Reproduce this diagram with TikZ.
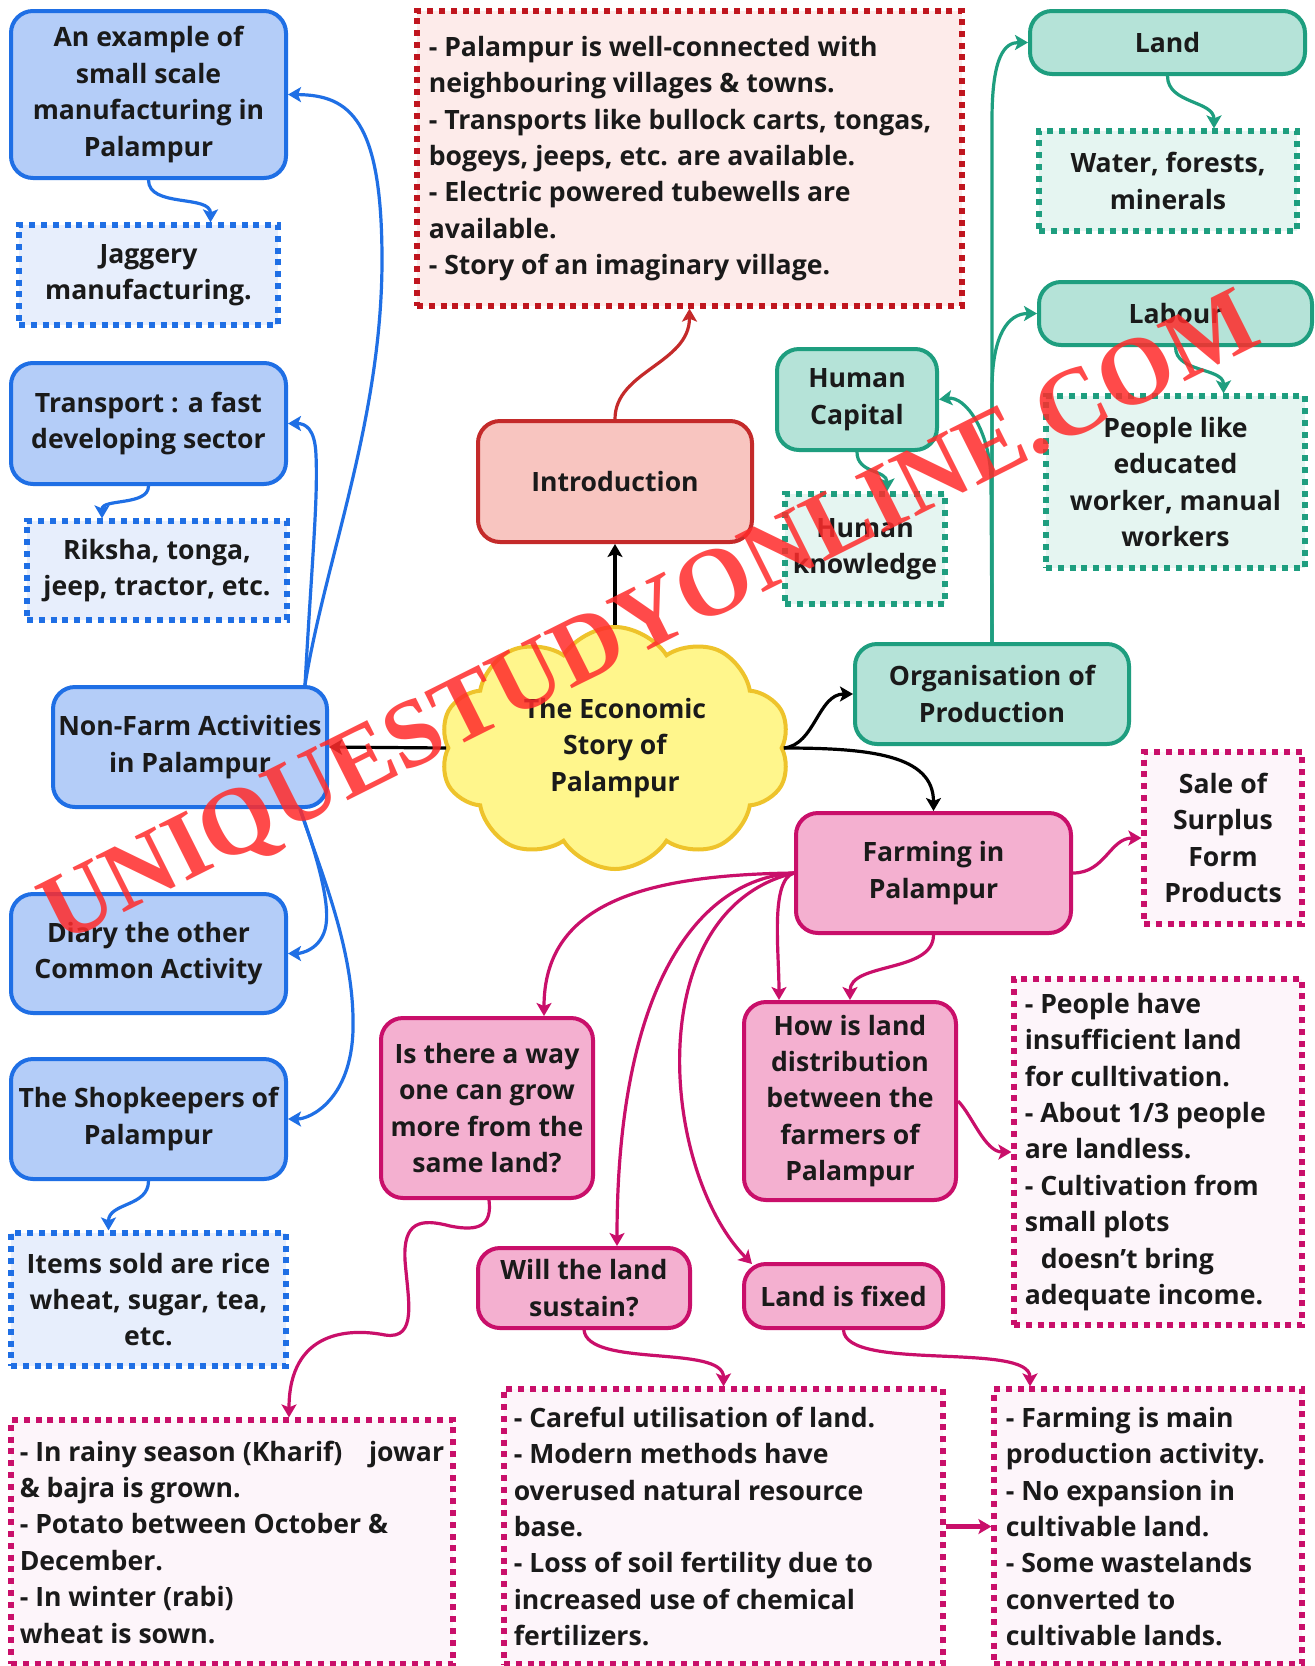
\documentclass[tikz,border=0pt]{standalone}
\usepackage{fontspec}
\setmainfont{Open Sans}
\newfontfamily\wmfont{Liberation Serif}
\usetikzlibrary{shapes.symbols,arrows.meta,calc}
\definecolor{bluefill}{HTML}{B4CDF8}
\definecolor{bluedraw}{HTML}{1F6FE5}
\definecolor{bluelight}{HTML}{E7EEFC}
\definecolor{redfill}{HTML}{F8C5C0}
\definecolor{reddraw}{HTML}{C42A2A}
\definecolor{redlight}{HTML}{FDEBEA}
\definecolor{dotred}{HTML}{C0151E}
\definecolor{tealfill}{HTML}{B5E3D8}
\definecolor{tealdraw}{HTML}{1E9E7F}
\definecolor{teallight}{HTML}{E5F5F1}
\definecolor{pinkfill}{HTML}{F4B0D0}
\definecolor{pinkdraw}{HTML}{C90F6A}
\definecolor{pinklight}{HTML}{FDF5FA}
\definecolor{cloudfill}{HTML}{FFF68C}
\definecolor{clouddraw}{HTML}{EEC32B}
\definecolor{txt}{HTML}{1A1A1A}
\definecolor{wm}{HTML}{FF2B2B}
\tikzset{
 txtfont/.style={font=\bfseries\fontsize{13.3}{18.2}\selectfont, text=txt},
 rbox/.style={rectangle, rounded corners=11pt, line width=2pt, align=center, inner sep=2pt, txtfont},
 dbox/.style={rectangle, line width=2.6pt, dash pattern=on 3pt off 2.9pt, align=center, inner sep=2pt, txtfont},
 bluebox/.style={rbox, draw=bluedraw, fill=bluefill},
 bluedot/.style={dbox, draw=bluedraw, fill=bluelight},
 redbox/.style={rbox, draw=reddraw, fill=redfill},
 reddot/.style={dbox, draw=dotred, fill=redlight},
 tealbox/.style={rbox, draw=tealdraw, fill=tealfill},
 tealdot/.style={dbox, draw=tealdraw, fill=teallight},
 pinkbox/.style={rbox, draw=pinkdraw, fill=pinkfill},
 pinkdot/.style={dbox, draw=pinkdraw, fill=pinklight},
 lefttxt/.style={anchor=west, align=left, inner sep=0pt, txtfont},
 conn/.style={line width=1.6pt, -{Stealth[length=6.5pt,width=7.5pt,inset=1.5pt]}},
 barr/.style={conn, draw=bluedraw},
 rarr/.style={conn, draw=reddraw},
 karr/.style={conn, draw=black},
 tarr/.style={conn, draw=tealdraw},
 parr/.style={conn, draw=pinkdraw},
}
\begin{document}
\begin{tikzpicture}[x=0.5pt,y=-0.5pt]
\fill[white] (0,0) rectangle (1314,1666);
\useasboundingbox (0,0) rectangle (1314,1666);

% ---------- blue (left) ----------
\node[bluebox, minimum width=137.5pt, minimum height=83.5pt] (ex) at (148.5,94.5) {An example of\\small scale\\manufacturing in\\Palampur};
\node[bluedot, minimum width=129.5pt, minimum height=50pt] (jag) at (148.5,275) {Jaggery\\manufacturing.};
\node[bluebox, minimum width=137.5pt, minimum height=60.5pt] (tr) at (148.5,423.5) {Transport : a fast\\developing sector};
\node[bluedot, minimum width=130pt, minimum height=49.5pt] (rk) at (157,570.5) {Riksha, tonga,\\jeep, tractor, etc.};
\node[bluebox, minimum width=137pt, minimum height=60pt] (nf) at (190,747) {Non-Farm Activities\\in Palampur};
\node[bluebox, minimum width=137.5pt, minimum height=59.5pt] (di) at (148.5,953.5) {Diary the other\\Common Activity};
\node[bluebox, minimum width=137.5pt, minimum height=60pt] (sh) at (148.5,1119) {The Shopkeepers of\\Palampur};
\node[bluedot, minimum width=137.5pt, minimum height=66.5pt] (it) at (148.5,1299.5) {Items sold are rice\\wheat, sugar, tea,\\etc.};

% ---------- red (top) ----------
\node[reddot, minimum width=272.5pt, minimum height=147.5pt] (ibox) at (689.5,158.5) {};
\node[lefttxt] (iboxt) at ($(ibox.west)+(14,0)$) {- Palampur is well-connected with\\neighbouring villages \& towns.\\- Transports like bullock carts, tongas,\\bogeys, jeeps, etc. are available.\\- Electric powered tubewells are\\available.\\- Story of an imaginary village.};
\node[redbox, minimum width=137pt, minimum height=60.5pt] (intro) at (615,481.5) {Introduction};

% ---------- teal (right top) ----------
\node[tealbox, minimum width=137.5pt, minimum height=31.5pt] (land) at (1167.5,42.5) {Land};
\node[tealdot, minimum width=129pt, minimum height=50pt] (wat) at (1168,181) {Water, forests,\\minerals};
\node[tealbox, minimum width=136.5pt, minimum height=31.5pt] (lab) at (1175.5,313.5) {Labour};
\node[tealdot, minimum width=129.5pt, minimum height=86pt] (pl) at (1175.5,482) {People like\\educated\\worker, manual\\workers};
\node[tealbox, minimum width=80pt, minimum height=50.5pt] (hc) at (857,399.5) {Human\\Capital};
\node[tealdot, minimum width=80pt, minimum height=55pt] (hk) at (865,549) {Human\\knowledge};
\node[tealbox, minimum width=137pt, minimum height=50pt] (org) at (992,694) {Organisation of\\Production};

% ---------- cloud ----------
\node[cloud, cloud puffs=10, cloud puff arc=115, cloud ignores aspect, draw=clouddraw, fill=cloudfill, line width=2pt, minimum width=175pt, minimum height=121pt, align=center, txtfont, inner sep=0pt] (cloud) at (615,748) {The Economic\\Story of\\Palampur};

% ---------- pink ----------
\node[pinkbox, minimum width=137.5pt, minimum height=60pt] (fa) at (933.5,873) {Farming in\\Palampur};
\node[pinkdot, minimum width=79pt, minimum height=86pt] (sale) at (1223,838) {Sale of\\Surplus\\Form\\Products};
\node[pinkbox, minimum width=106pt, minimum height=90pt] (is) at (487,1108) {Is there a way\\one can grow\\more from the\\same land?};
\node[pinkbox, minimum width=106pt, minimum height=99pt] (hl) at (850,1101) {How is land\\distribution\\between the\\farmers of\\Palampur};
\node[pinkdot, minimum width=144pt, minimum height=173pt] (ph) at (1158,1152) {};
\node[lefttxt] (pht) at ($(ph.west)+(13,0)$) {- People have\\insufficient land\\for culltivation.\\- About 1/3 people\\are landless.\\- Cultivation from\\small plots\\\hspace*{0.6em}doesn’t bring\\adequate income.};
\node[pinkbox, minimum width=106pt, minimum height=40pt] (wl) at (584,1288) {Will the land\\sustain?};
\node[pinkbox, minimum width=99.5pt, minimum height=32pt] (lf) at (843.5,1296) {Land is fixed};
\node[pinkdot, minimum width=221pt, minimum height=122pt] (rn) at (232,1542) {};
\node[lefttxt] (rnt) at ($(rn.west)+(11,0)$) {- In rainy season (Kharif)\hspace*{1em}jowar\\\& bajra is grown.\\- Potato between October \&\\December.\\- In winter (rabi)\\wheat is sown.};
\node[pinkdot, minimum width=219.5pt, minimum height=137.5pt] (cf) at (723.5,1526.5) {};
\node[lefttxt] (cft) at ($(cf.west)+(12,0)$) {- Careful utilisation of land.\\- Modern methods have\\overused natural resource\\base.\\- Loss of soil fertility due to\\increased use of chemical\\fertilizers.};
\node[pinkdot, minimum width=154pt, minimum height=137.5pt] (fm) at (1148,1526.5) {};
\node[lefttxt] (fmt) at ($(fm.west)+(14,0)$) {- Farming is main\\production activity.\\- No expansion in\\cultivable land.\\- Some wastelands\\converted to\\cultivable lands.};

% ---------- connectors: blue ----------
\coordinate (nftop) at ($(nf.north)+(115,0)$);
\coordinate (nfbot) at ($(nf.south)+(110,0)$);
\draw[barr] (ex.south) .. controls ($(ex.south)+(0,28)$) and ($(jag.north)+(62,-28)$) .. ($(jag.north)+(62,0)$);
\draw[barr] (nftop) .. controls (325,560) and (382,420) .. (382,260) .. controls (382,120) and (350,95) .. (ex.east);
\draw[barr] (nftop) .. controls (312,560) and (318,500) .. (316,455) .. controls (315,428) and (305,423.5) .. (tr.east);
\draw[barr] (tr.south) .. controls ($(tr.south)+(0,20)$) and ($(rk.north)+(-55,-20)$) .. ($(rk.north)+(-55,0)$);
\draw[barr] (nfbot) .. controls (315,850) and (330,900) .. (326,925) .. controls (322,950) and (300,953.5) .. (di.east);
\draw[barr] (nfbot) .. controls (320,870) and (355,950) .. (353,1030) .. controls (351,1100) and (310,1119) .. (sh.east);
\draw[barr] (sh.south) .. controls ($(sh.south)+(0,26)$) and ($(it.north)+(-40,-28)$) .. ($(it.north)+(-40,0)$);

% ---------- connectors: red / black ----------
\draw[rarr] (intro.north) .. controls ($(intro.north)+(0,-48)$) and ($(ibox.south)+(0,55)$) .. (ibox.south);
\draw[karr] (cloud.north) -- (intro.south);
\draw[karr] (cloud.west) -- (nf.east);
\draw[karr] (cloud.east) .. controls (815,745) and (818,694) .. (org.west);
\draw[karr] (cloud.east) .. controls (870,748) and (933.5,755) .. (fa.north);

% ---------- connectors: teal ----------
\draw[tarr] (org.north) -- (992,120) .. controls (992,55) and (1005,42.5) .. (land.west);
\draw[tarr] (org.north) -- (992,390) .. controls (992,335) and (1008,313.5) .. (lab.west);
\draw[tarr] (org.north) -- (991,480) .. controls (990,430) and (965,396) .. (hc.east);
\draw[tarr] (land.south) .. controls ($(land.south)+(0,28)$) and ($(wat.north)+(46,-28)$) .. ($(wat.north)+(46,0)$);
\draw[tarr] (lab.south) .. controls ($(lab.south)+(0,26)$) and ($(pl.north)+(48,-26)$) .. ($(pl.north)+(48,0)$);
\draw[tarr] (hc.south) .. controls ($(hc.south)+(0,22)$) and ($(hk.north)+(22,-22)$) .. ($(hk.north)+(22,0)$);

% ---------- connectors: pink ----------
\draw[parr] (fa.east) .. controls (1105,873) and (1110,838) .. (sale.west);
\draw[parr] (fa.west) .. controls (640,875) and (544,905) .. ($(is.north)+(57,0)$);
\draw[parr] (fa.west) .. controls (690,880) and (617,1000) .. ($(wl.north)+(33,0)$);
\draw[parr] (fa.west) .. controls (640,910) and (660,1170) .. ($(lf.north west)+(10,2)$);
\draw[parr] (fa.west) .. controls (770,880) and (779,950) .. ($(hl.north)+(-71,0)$);
\draw[parr] (fa.south) .. controls ($(fa.south)+(0,38)$) and ($(hl.north)+(0,-38)$) .. (hl.north);
\draw[parr] (hl.east) .. controls (972,1115) and (985,1152) .. (ph.west);
\draw[parr] ($(is.south)+(2,0)$) .. controls (492,1225) and (480,1232) .. (450,1226) .. controls (420,1218) and (403,1222) .. (405,1260) .. controls (408,1300) and (418,1340) .. (385,1335) .. controls (350,1328) and (289,1330) .. ($(rn.north)+(57,0)$);
\draw[parr] (wl.south) .. controls ($(wl.south)+(4,38)$) and ($(cf.north)+(0,-42)$) .. (cf.north);
\draw[parr] (lf.south) .. controls ($(lf.south)+(2,42)$) and ($(fm.north)+(-118,-45)$) .. ($(fm.north)+(-118,0)$);
\draw[parr, line width=2.2pt] (cf.east) -- (fm.west);

% ---------- watermark ----------
\node[rotate=26.6, text=wm, text opacity=0.85, font=\wmfont\bfseries\fontsize{48}{48}\selectfont, inner sep=0pt] (wmark) at (652,622) {UNIQUESTUDYONLINE.COM};
\end{tikzpicture}
\end{document}
